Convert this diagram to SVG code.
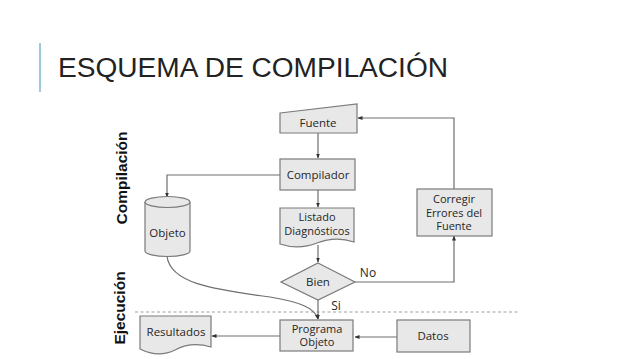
<svg xmlns="http://www.w3.org/2000/svg" width="638" height="359" viewBox="0 0 638 359">
<defs>
<style>
.n{fill:#e8e8e8;stroke:#7a7a7a;stroke-width:1.2}
.t{font-family:"Open Sans","Noto Sans",sans-serif;font-size:11.5px;fill:#262626;text-anchor:middle}
.m{font-size:11px}
.c{fill:none;stroke:#6e6e6e;stroke-width:1.2}
.lab{font-family:"Liberation Sans",Arial,sans-serif;font-weight:bold;font-size:15.5px;fill:#111;text-anchor:middle}
</style>
<marker id="ah" viewBox="0 0 10 10" refX="9" refY="5" markerWidth="5" markerHeight="5" orient="auto" markerUnits="userSpaceOnUse">
<path d="M0,1 L10,5 L0,9 Z" fill="#333"/>
</marker>
</defs>
<rect width="638" height="359" fill="#fff"/>
<line x1="40" y1="43" x2="40" y2="92" stroke="#9fcad6" stroke-width="2"/>
<text x="58" y="77" font-family="Liberation Sans,Arial,sans-serif" font-size="27" fill="#222" textLength="390" lengthAdjust="spacingAndGlyphs">ESQUEMA DE COMPILACIÓN</text>

<text class="lab" transform="translate(127,178) rotate(-90)">Compilación</text>
<text class="lab" transform="translate(125,308) rotate(-90)">Ejecución</text>
<line x1="135" y1="312" x2="518" y2="312" stroke="#a0a0a0" stroke-width="1.2" stroke-dasharray="3,2.5"/>

<g id="connectors">
<path class="c" d="M318,133 V158" marker-end="url(#ah)"/>
<path class="c" d="M318,190 V207" marker-end="url(#ah)"/>
<path class="c" d="M280,175 H167 V197" marker-end="url(#ah)"/>
<path class="c" d="M318,245 V262" marker-end="url(#ah)"/>
<path class="c" d="M355,282 H454 V236" marker-end="url(#ah)"/>
<path class="c" d="M454,189 V118 H358" marker-end="url(#ah)"/>
<path class="c" d="M318,300 V319" marker-end="url(#ah)"/>
<path class="c" d="M167,256 C170,285 220,290 270,297 C300,302 315,308 318,319" marker-end="url(#ah)"/>
<path class="c" d="M280,336 H212" marker-end="url(#ah)"/>
<path class="c" d="M397,337 H355" marker-end="url(#ah)"/>
<text class="t" x="368" y="277" style="font-size:12px">No</text>
<text class="t" x="336" y="310" style="font-size:12px">Si</text>
</g>

<g id="fuente">
<polygon class="n" points="280,113 357,104 357,133 280,133"/>
<text class="t" x="318" y="127">Fuente</text>
</g>
<g id="compilador">
<rect class="n" x="280" y="159" width="75" height="31"/>
<text class="t" x="318" y="179">Compilador</text>
</g>
<g id="objeto">
<path class="n" d="M145,202 V251 A22.5,5.5 0 0 0 190,251 V202 A22.5,5.5 0 0 0 145,202 Z"/>
<path fill="none" stroke="#7a7a7a" stroke-width="1.2" d="M145,202 A22.5,5.5 0 0 0 190,202"/>
<text class="t" x="167.5" y="237">Objeto</text>
</g>
<g id="listado">
<path class="n" d="M280,208 H354 V242 C342,238 330,238 317,243 C304,248 292,248 280,244 Z"/>
<text class="t m" x="317" y="221">Listado</text>
<text class="t m" x="317" y="234.5">Diagnósticos</text>
</g>
<g id="bien">
<polygon class="n" points="318,263 355,282 318,300 281,282"/>
<text class="t" x="318" y="286">Bien</text>
</g>
<g id="corregir">
<rect class="n" x="417" y="189" width="75" height="47"/>
<text class="t m" x="454" y="203">Corregir</text>
<text class="t m" x="454" y="216.5">Errores del</text>
<text class="t m" x="454" y="230">Fuente</text>
</g>
<g id="programa">
<rect class="n" x="280" y="320" width="73" height="31"/>
<text class="t m" x="317" y="332.5">Programa</text>
<text class="t m" x="317" y="346">Objeto</text>
</g>
<g id="resultados">
<path class="n" d="M140,316 H211 V347 C198,343 186,344 175,350 C163,356 150,354 140,349 Z"/>
<text class="t" x="176" y="336">Resultados</text>
</g>
<g id="datos">
<rect class="n" x="397" y="320" width="73" height="32"/>
<text class="t" x="433" y="340">Datos</text>
</g>
</svg>
